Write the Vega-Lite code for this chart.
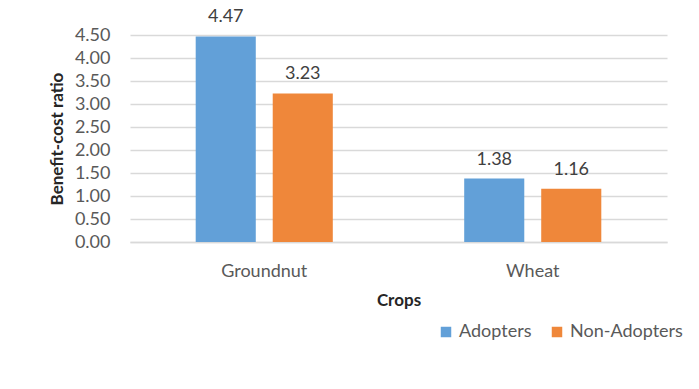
{
  "$schema": "https://vega.github.io/schema/vega-lite/v6.json",
  "autosize": {"type": "none"},
  "padding": {"left": 130, "top": 35, "right": 32, "bottom": 147},
  "width": 537,
  "height": 207,
  "background": "white",
  "config": {
    "view": {"stroke": null},
    "font": "Lato",
    "axis": {"labelFont": "Lato", "titleFont": "Lato"}
  },
  "data": {
    "values": [
      {"Crop": "Groundnut", "Group": "Adopters", "Value": 4.47},
      {"Crop": "Groundnut", "Group": "Non-Adopters", "Value": 3.23},
      {"Crop": "Wheat", "Group": "Adopters", "Value": 1.38},
      {"Crop": "Wheat", "Group": "Non-Adopters", "Value": 1.16}
    ]
  },
  "encoding": {
    "x": {
      "field": "Crop", "type": "nominal", "sort": ["Groundnut", "Wheat"],
      "scale": {"paddingInner": 0, "paddingOuter": 0},
      "axis": {
        "title": "Crops", "labelAngle": 0, "labelFontSize": 18, "labelColor": "#595959",
        "labelPadding": 20, "ticks": false, "domainColor": "#d9d9d9", "domainWidth": 1.5,
        "titleFontSize": 17, "titleFontWeight": "bold", "titleColor": "#262626", "titlePadding": 12
      }
    },
    "xOffset": {
      "field": "Group", "type": "nominal",
      "scale": {"paddingInner": 0.22, "paddingOuter": 0.853}
    }
  },
  "layer": [
    {
      "mark": {"type": "bar"},
      "encoding": {
        "y": {
          "field": "Value", "type": "quantitative",
          "scale": {"domain": [0, 4.5], "nice": false},
          "axis": {
            "title": "Benefit-cost ratio", "values": [0, 0.5, 1, 1.5, 2, 2.5, 3, 3.5, 4, 4.5],
            "format": ".2f", "labelFontSize": 18, "labelColor": "#595959", "ticks": false,
            "domain": false, "labelPadding": 20, "gridColor": "#d9d9d9", "gridWidth": 1.5,
            "titleFontSize": 17, "titleFontWeight": "bold", "titleColor": "#262626", "titlePadding": 8
          }
        },
        "color": {
          "field": "Group", "type": "nominal",
          "scale": {"domain": ["Adopters", "Non-Adopters"], "range": ["#62A0D8", "#EF873A"]},
          "legend": {
            "title": null, "orient": "none", "direction": "horizontal",
            "legendX": 307, "legendY": 288, "symbolType": "square", "symbolSize": 110,
            "symbolStrokeWidth": 0, "labelFontSize": 18, "labelColor": "#595959",
            "columnPadding": 16, "labelOffset": 4
          }
        }
      }
    },
    {
      "mark": {"type": "text", "baseline": "bottom", "dy": -10, "fontSize": 18, "color": "#404040"},
      "encoding": {
        "y": {
          "field": "Value", "type": "quantitative",
          "axis": {
            "title": null, "orient": "left", "labels": false, "ticks": false, "domain": false,
            "values": [0.1, 0.2, 0.3, 0.4, 0.6, 0.7, 0.8, 0.9, 1.1, 1.2, 1.3, 1.4, 1.6, 1.7, 1.8, 1.9, 2.1, 2.2, 2.3, 2.4, 2.6, 2.7, 2.8, 2.9, 3.1, 3.2, 3.3, 3.4, 3.6, 3.7, 3.8, 3.9, 4.1, 4.2, 4.3, 4.4],
            "gridColor": "#ebebeb", "gridWidth": 1
          }
        },
        "text": {"field": "Value", "type": "quantitative", "format": ".2f"}
      }
    }
  ],
  "resolve": {"axis": {"y": "independent"}}
}
